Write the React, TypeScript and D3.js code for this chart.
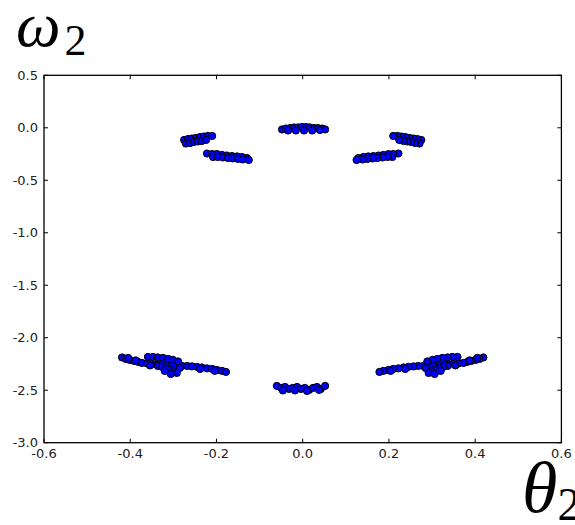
import React from 'react';
import * as d3 from 'd3';

// islands of the Poincaré section (theta2, omega2)
const topCenter = [
  [-0.048, -0.016], [-0.039, -0.007], [-0.029, -0.002], [-0.02, 0.003], [-0.011, 0.003],
  [-0.002, 0.008], [0.008, 0.008], [0.017, 0.003], [0.026, -0.002], [0.035, -0.002],
  [0.045, -0.007], [0.052, -0.016], [-0.034, -0.026], [-0.016, -0.026], [0.003, -0.026],
  [0.022, -0.026], [0.04, -0.021],
];

const upperLeftA = [
  [-0.275, -0.116], [-0.266, -0.107], [-0.257, -0.102], [-0.248, -0.097], [-0.238, -0.088],
  [-0.229, -0.083], [-0.22, -0.078], [-0.21, -0.078], [-0.271, -0.15], [-0.261, -0.145],
  [-0.252, -0.135], [-0.243, -0.13], [-0.234, -0.126], [-0.224, -0.116],
];

const upperLeftB = [
  [-0.222, -0.245], [-0.21, -0.25], [-0.199, -0.25], [-0.187, -0.259], [-0.176, -0.264],
  [-0.164, -0.269], [-0.152, -0.273], [-0.141, -0.278], [-0.129, -0.288], [-0.208, -0.278],
  [-0.197, -0.278], [-0.185, -0.283], [-0.173, -0.288], [-0.162, -0.292], [-0.15, -0.297],
  [-0.139, -0.302], [-0.125, -0.307],
];

const upperRightA = [
  [0.275, -0.116], [0.266, -0.107], [0.257, -0.102], [0.248, -0.097], [0.238, -0.088],
  [0.229, -0.083], [0.22, -0.078], [0.21, -0.078], [0.271, -0.15], [0.261, -0.145],
  [0.252, -0.135], [0.243, -0.13], [0.234, -0.126], [0.224, -0.116],
];

const upperRightB = [
  [0.222, -0.245], [0.21, -0.25], [0.199, -0.25], [0.187, -0.259], [0.176, -0.264],
  [0.164, -0.269], [0.152, -0.273], [0.141, -0.278], [0.129, -0.288], [0.208, -0.278],
  [0.197, -0.278], [0.185, -0.283], [0.173, -0.288], [0.162, -0.292], [0.15, -0.297],
  [0.139, -0.302], [0.125, -0.307],
];

const bottomCenter = [
  [-0.06, -2.459], [-0.05, -2.478], [-0.041, -2.469], [-0.032, -2.488], [-0.023, -2.478],
  [-0.013, -2.469], [-0.004, -2.488], [0.005, -2.478], [0.015, -2.497], [0.024, -2.478],
  [0.033, -2.469], [0.042, -2.488], [0.052, -2.459], [-0.046, -2.502], [-0.018, -2.502],
  [0.01, -2.507], [0.038, -2.497],
];

const lowerLeftA = [
  [-0.419, -2.188], [-0.41, -2.202], [-0.401, -2.211], [-0.391, -2.221], [-0.382, -2.23],
  [-0.373, -2.24], [-0.361, -2.245], [-0.35, -2.25], [-0.338, -2.254], [-0.327, -2.259],
  [-0.315, -2.259], [-0.303, -2.264], [-0.292, -2.264], [-0.28, -2.269], [-0.268, -2.269],
  [-0.257, -2.273], [-0.245, -2.278], [-0.234, -2.283], [-0.222, -2.292], [-0.21, -2.297],
  [-0.199, -2.307], [-0.187, -2.316], [-0.178, -2.326], [-0.405, -2.192], [-0.387, -2.216],
  [-0.354, -2.264], [-0.238, -2.297], [-0.204, -2.316], [-0.285, -2.288],
];

const lowerLeftB = [
  [-0.359, -2.183], [-0.347, -2.183], [-0.336, -2.188], [-0.324, -2.192], [-0.312, -2.202],
  [-0.301, -2.211], [-0.289, -2.226], [-0.336, -2.269], [-0.326, -2.278], [-0.317, -2.292],
  [-0.308, -2.307], [-0.299, -2.321], [-0.292, -2.335], [-0.32, -2.316], [-0.306, -2.345],
];

const lowerRightA = [
  [0.419, -2.188], [0.41, -2.202], [0.401, -2.211], [0.391, -2.221], [0.382, -2.23],
  [0.373, -2.24], [0.361, -2.245], [0.35, -2.25], [0.338, -2.254], [0.327, -2.259],
  [0.315, -2.259], [0.303, -2.264], [0.292, -2.264], [0.28, -2.269], [0.268, -2.269],
  [0.257, -2.273], [0.245, -2.278], [0.234, -2.283], [0.222, -2.292], [0.21, -2.297],
  [0.199, -2.307], [0.187, -2.316], [0.178, -2.326], [0.405, -2.192], [0.387, -2.216],
  [0.354, -2.264], [0.238, -2.297], [0.204, -2.316], [0.285, -2.288],
];

const lowerRightB = [
  [0.359, -2.183], [0.347, -2.183], [0.336, -2.188], [0.324, -2.192], [0.312, -2.202],
  [0.301, -2.211], [0.289, -2.226], [0.336, -2.269], [0.326, -2.278], [0.317, -2.292],
  [0.308, -2.307], [0.299, -2.321], [0.292, -2.335], [0.32, -2.316], [0.306, -2.345],
];

const islands = [
  topCenter, upperLeftA, upperLeftB, upperRightA, upperRightB,
  bottomCenter, lowerLeftA, lowerLeftB, lowerRightA, lowerRightB,
];

const xTicks = [-0.6, -0.4, -0.2, 0.0, 0.2, 0.4, 0.6];
const yTicks = [0.5, 0.0, -0.5, -1.0, -1.5, -2.0, -2.5, -3.0];

const W = 575;
const H = 525;
const left = 44;
const right = 561.4;
const top = 75.3;
const bottom = 442.7;

export default function App() {
  const x = d3.scaleLinear().domain([-0.6, 0.6]).range([left, right]);
  const y = d3.scaleLinear().domain([-3.0, 0.5]).range([bottom, top]);
  const fmt = (v: number) => v.toFixed(1);
  const tickFont = { fontFamily: 'DejaVu Sans', fontSize: 13, fill: '#222' };

  return (
    <svg
      width={W}
      height={H}
      style={{ position: 'absolute', left: 0, top: 0, background: '#fff' }}>
      <rect x={left} y={top} width={right - left} height={bottom - top} fill="#fff" />

      {islands.map((pts, i) => (
        <g key={i}>
          {pts.map((d, j) => (
            <circle
              key={j}
              cx={x(d[0])}
              cy={y(d[1])}
              r={3.6}
              fill="#0000ff"
              stroke="#000"
              strokeWidth={1}
            />
          ))}
        </g>
      ))}

      {xTicks.map((t) => (
        <g key={'x' + t}>
          <line x1={x(t)} x2={x(t)} y1={bottom} y2={bottom - 4} stroke="#000" />
          <line x1={x(t)} x2={x(t)} y1={top} y2={top + 4} stroke="#000" />
          <text x={x(t)} y={bottom + 15} textAnchor="middle" {...tickFont}>
            {fmt(t)}
          </text>
        </g>
      ))}

      {yTicks.map((t) => (
        <g key={'y' + t}>
          <line x1={left} x2={left + 4} y1={y(t)} y2={y(t)} stroke="#000" />
          <line x1={right} x2={right - 4} y1={y(t)} y2={y(t)} stroke="#000" />
          <text x={left - 6} y={y(t) + 4.5} textAnchor="end" {...tickFont}>
            {fmt(t)}
          </text>
        </g>
      ))}

      <rect
        x={left}
        y={top}
        width={right - left}
        height={bottom - top}
        fill="none"
        stroke="#000"
        strokeWidth={1.3}
      />

      <text x={16} y={46} fontFamily="Liberation Serif" fontStyle="italic" fontSize={63}>
        ω
        <tspan fontStyle="normal" fontSize={44} dx={4} dy={9}>2</tspan>
      </text>
      <text x={522} y={512} fontFamily="Liberation Serif" fontStyle="italic" fontSize={72}>
        θ
        <tspan fontStyle="normal" fontSize={46} dy={8}>2</tspan>
      </text>
    </svg>
  );
}
